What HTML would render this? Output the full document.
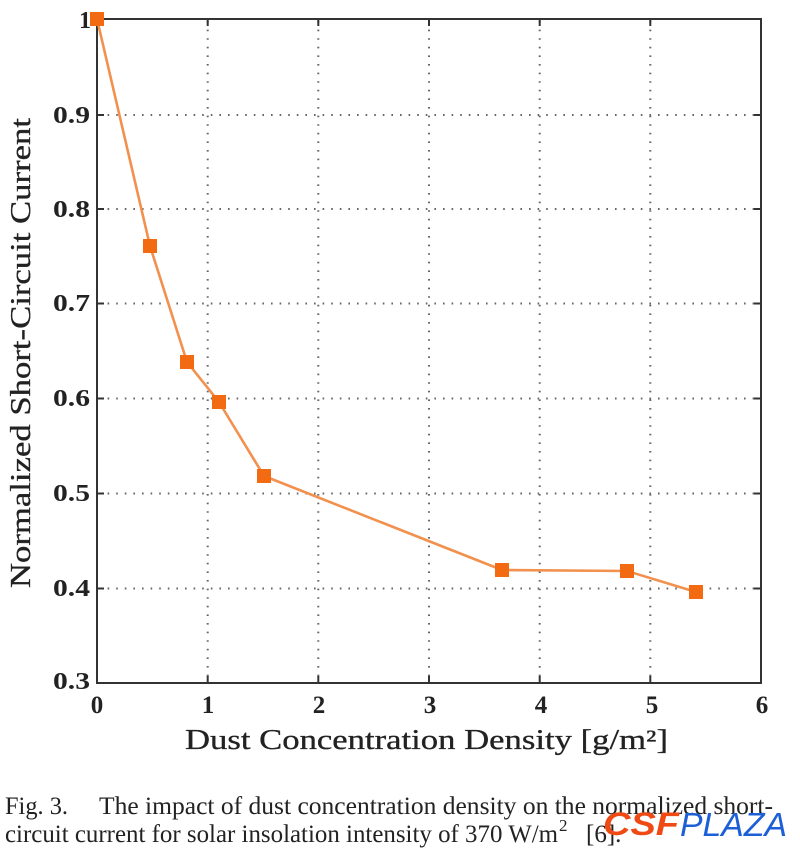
<!DOCTYPE html>
<html><head><meta charset="utf-8"><style>
html,body{margin:0;padding:0;background:#fff;}
svg{display:block;}
</style></head><body>
<svg width="800" height="852" viewBox="0 0 800 852" xmlns="http://www.w3.org/2000/svg">
<rect width="800" height="852" fill="#fff"/>
<!-- grid -->
<g stroke="#666" stroke-width="2" stroke-dasharray="1.6 7" fill="none">
<line x1="207.7" y1="21" x2="207.7" y2="681"/>
<line x1="318.3" y1="21" x2="318.3" y2="681"/>
<line x1="429" y1="21" x2="429" y2="681"/>
<line x1="539.7" y1="21" x2="539.7" y2="681"/>
<line x1="650.3" y1="21" x2="650.3" y2="681"/>
<line x1="99" y1="115" x2="759" y2="115"/>
<line x1="99" y1="209" x2="759" y2="209"/>
<line x1="99" y1="303.5" x2="759" y2="303.5"/>
<line x1="99" y1="398.5" x2="759" y2="398.5"/>
<line x1="99" y1="493.5" x2="759" y2="493.5"/>
<line x1="99" y1="588.5" x2="759" y2="588.5"/>
</g>
<!-- ticks -->
<g stroke="#333" stroke-width="2">
<line x1="207.7" y1="683" x2="207.7" y2="676"/><line x1="318.3" y1="683" x2="318.3" y2="676"/><line x1="429" y1="683" x2="429" y2="676"/><line x1="539.7" y1="683" x2="539.7" y2="676"/><line x1="650.3" y1="683" x2="650.3" y2="676"/>
<line x1="207.7" y1="19" x2="207.7" y2="26"/><line x1="318.3" y1="19" x2="318.3" y2="26"/><line x1="429" y1="19" x2="429" y2="26"/><line x1="539.7" y1="19" x2="539.7" y2="26"/><line x1="650.3" y1="19" x2="650.3" y2="26"/>
<line x1="97" y1="115" x2="104" y2="115"/><line x1="97" y1="209" x2="104" y2="209"/><line x1="97" y1="303.5" x2="104" y2="303.5"/><line x1="97" y1="398.5" x2="104" y2="398.5"/><line x1="97" y1="493.5" x2="104" y2="493.5"/><line x1="97" y1="588.5" x2="104" y2="588.5"/>
<line x1="761" y1="115" x2="754" y2="115"/><line x1="761" y1="209" x2="754" y2="209"/><line x1="761" y1="303.5" x2="754" y2="303.5"/><line x1="761" y1="398.5" x2="754" y2="398.5"/><line x1="761" y1="493.5" x2="754" y2="493.5"/><line x1="761" y1="588.5" x2="754" y2="588.5"/>
</g>
<!-- axes box -->
<rect x="97" y="19" width="664" height="664" fill="none" stroke="#333" stroke-width="2"/>
<!-- data line -->
<polyline points="97,19 150,246 187,362 219,402 264,476 502,570 627,571 696,592" fill="none" stroke="#f2904e" stroke-width="2.6" stroke-linejoin="round"/>
<g fill="#f26a12">
<rect x="90" y="12" width="14" height="14"/>
<rect x="143" y="239" width="14" height="14"/>
<rect x="180" y="355" width="14" height="14"/>
<rect x="212" y="395" width="14" height="14"/>
<rect x="257" y="469" width="14" height="14"/>
<rect x="495" y="563" width="14" height="14"/>
<rect x="620" y="564" width="14" height="14"/>
<rect x="689" y="585" width="14" height="14"/>
</g>
<!-- y tick labels -->
<g font-family="'Liberation Serif', serif" font-weight="bold" font-size="24" fill="#222" text-anchor="end">
<text x="91" y="28">1</text>
<text x="90" y="123" textLength="37" lengthAdjust="spacingAndGlyphs">0.9</text>
<text x="90" y="217" textLength="37" lengthAdjust="spacingAndGlyphs">0.8</text>
<text x="90" y="311" textLength="37" lengthAdjust="spacingAndGlyphs">0.7</text>
<text x="90" y="406" textLength="37" lengthAdjust="spacingAndGlyphs">0.6</text>
<text x="90" y="501" textLength="37" lengthAdjust="spacingAndGlyphs">0.5</text>
<text x="90" y="596" textLength="37" lengthAdjust="spacingAndGlyphs">0.4</text>
<text x="90" y="689" textLength="37" lengthAdjust="spacingAndGlyphs">0.3</text>
</g>
<!-- x tick labels -->
<g font-family="'Liberation Serif', serif" font-weight="bold" font-size="25" fill="#222" text-anchor="middle">
<text x="97" y="713">0</text>
<text x="208" y="713">1</text>
<text x="319" y="713">2</text>
<text x="430" y="713">3</text>
<text x="541" y="713">4</text>
<text x="652" y="713">5</text>
<text x="762" y="713">6</text>
</g>
<!-- axis labels -->
<text x="185" y="749" font-family="'Liberation Serif', serif" font-size="28" fill="#222" stroke="#222" stroke-width="0.3" textLength="483" lengthAdjust="spacingAndGlyphs">Dust Concentration Density [g/m²]</text>
<text transform="translate(30,588) rotate(-90)" x="0" y="0" font-family="'Liberation Serif', serif" font-size="28" fill="#222" stroke="#222" stroke-width="0.3" textLength="470" lengthAdjust="spacingAndGlyphs">Normalized Short-Circuit Current</text>
<!-- caption -->
<g font-family="'Liberation Serif', serif" font-size="25" fill="#222">
<text x="5" y="814" textLength="63" lengthAdjust="spacingAndGlyphs">Fig. 3.</text>
<text x="99" y="814" textLength="674" lengthAdjust="spacingAndGlyphs">The impact of dust concentration density on the normalized short-</text>
<text x="5" y="842" textLength="553" lengthAdjust="spacingAndGlyphs">circuit current for solar insolation intensity of 370 W/m</text>
<text x="559" y="831" font-size="17">2</text>
<text x="586" y="842">[6].</text>
</g>
<!-- logo -->
<text x="603" y="835" font-family="'Liberation Sans', sans-serif" font-weight="bold" font-style="italic" font-size="32" fill="#f04a14" textLength="76" lengthAdjust="spacingAndGlyphs">CSF</text>
<text x="680" y="836" font-family="'Liberation Sans', sans-serif" font-style="italic" font-size="33" fill="#1d5fd6" textLength="107" lengthAdjust="spacingAndGlyphs">PLAZA</text>
</svg>
</body></html>
